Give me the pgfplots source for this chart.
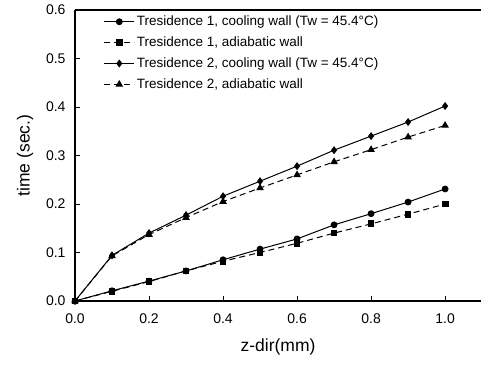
\documentclass[border=0pt]{standalone}
\usepackage{fontspec}
\setmainfont{Liberation Sans}
\usepackage{pgfplots}
\pgfplotsset{compat=1.18}
\begin{document}
\begin{tikzpicture}
\begin{axis}[
  scale only axis,
  width=406pt, height=291pt,
  xmin=0, xmax=1.097, ymin=0, ymax=0.6,
  axis x line=box, axis y line=left,
  x axis line style={-, line width=1.2pt},
  y axis line style={-, line width=1.2pt},
  xtick={0,0.2,0.4,0.6,0.8,1.0},
  ytick={0,0.1,0.2,0.3,0.4,0.5,0.6},
  xtick pos=bottom, ytick pos=left,
  tick align=inside,
  major tick length=5pt,
  tick style={line width=0.9pt, black},
  /pgf/number format/assume math mode=true,
  /pgf/number format/.cd, fixed, fixed zerofill, precision=1, /pgfplots/.cd,
  tick label style={font=\fontsize{14}{16}\selectfont},
  yticklabel style={xshift=-6pt},
  xticklabel style={yshift=-9pt},
  xlabel={z-dir(mm)}, ylabel={time (sec.)},
  label style={font=\fontsize{17.5}{20}\selectfont},
  xlabel style={yshift=-9pt},
  ylabel style={yshift=6pt},
  legend style={at={(axis description cs:0.068,0.99)}, anchor=north west, draw=none, fill=none,
    font=\fontsize{13.5}{15}\selectfont, row sep=5.6pt, inner sep=1pt},
  legend cell align=left,
  legend image code/.code={\draw[mark repeat=2,mark phase=2,#1] plot coordinates {(0pt,0pt) (15pt,0pt) (30pt,0pt)};},
]
\addplot[black, line width=1pt, mark=*, mark size=2.9pt, mark options={solid}] coordinates {
(0,0) (0.1,0.021) (0.2,0.041) (0.3,0.062) (0.4,0.085) (0.5,0.107) (0.6,0.128) (0.7,0.157) (0.8,0.180) (0.9,0.204) (1.0,0.231)};
\addlegendentry{Tresidence 1, cooling wall (Tw = 45.4°C)}
\addplot[black, line width=1pt, dash pattern=on 6pt off 4pt, mark=square*, mark size=2.9pt, mark options={solid}] coordinates {
(0,0) (0.1,0.020) (0.2,0.040) (0.3,0.062) (0.4,0.082) (0.5,0.100) (0.6,0.119) (0.7,0.140) (0.8,0.159) (0.9,0.179) (1.0,0.200)};
\addlegendentry{Tresidence 1, adiabatic wall}
\addplot[black, line width=1pt, mark=diamond*, mark size=3.2pt, mark options={solid}] coordinates {
(0,0) (0.1,0.094) (0.2,0.140) (0.3,0.177) (0.4,0.216) (0.5,0.247) (0.6,0.278) (0.7,0.311) (0.8,0.340) (0.9,0.369) (1.0,0.402)};
\addlegendentry{Tresidence 2, cooling wall (Tw = 45.4°C)}
\addplot[black, line width=1pt, dash pattern=on 6pt off 4pt, mark=triangle*, mark size=3.4pt, mark options={solid}] coordinates {
(0,0) (0.1,0.093) (0.2,0.137) (0.3,0.172) (0.4,0.205) (0.5,0.233) (0.6,0.260) (0.7,0.287) (0.8,0.312) (0.9,0.338) (1.0,0.362)};
\addlegendentry{Tresidence 2, adiabatic wall}
\end{axis}
\pgfresetboundingbox
\path ([xshift=-75pt,yshift=-64pt]current axis.south west) rectangle ([yshift=10pt]current axis.north east);
\end{tikzpicture}
\end{document}
